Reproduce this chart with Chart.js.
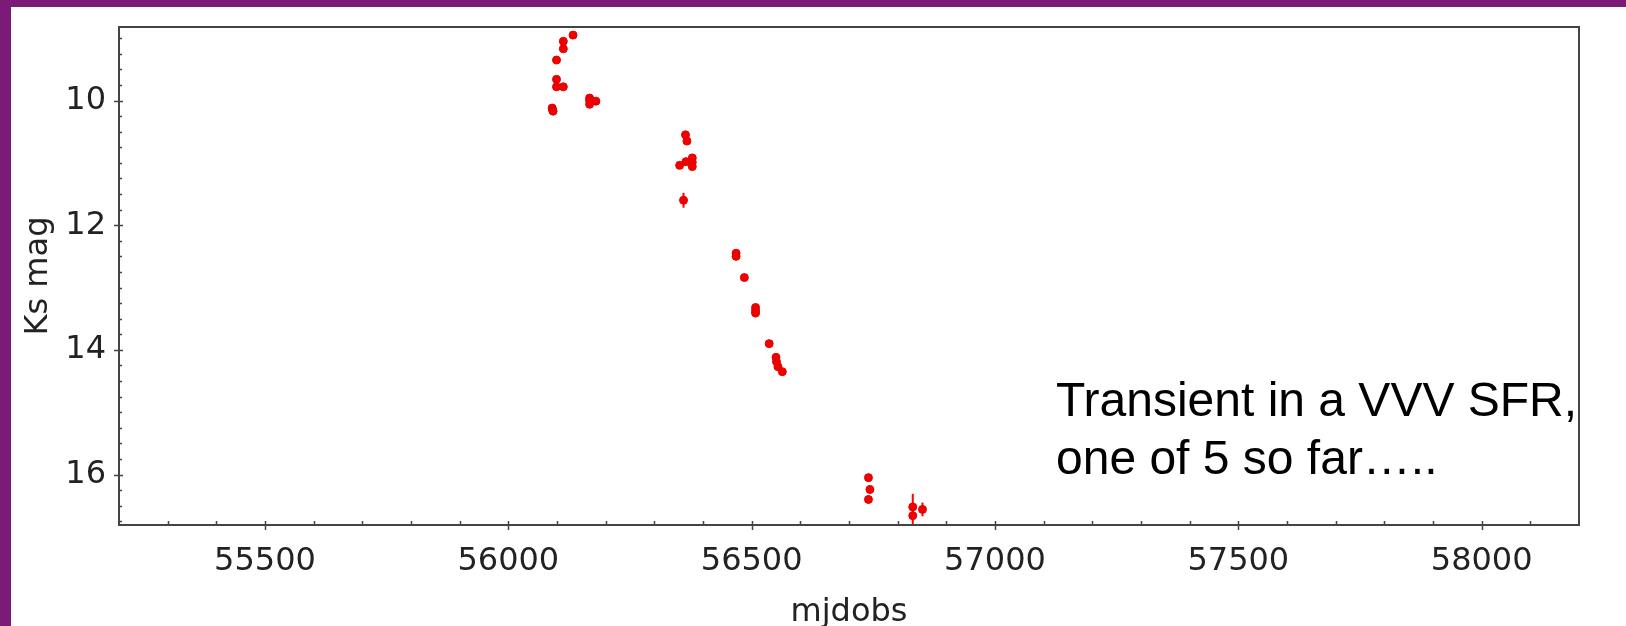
<!DOCTYPE html>
<html>
<head>
<meta charset="utf-8">
<script src="https://cdn.jsdelivr.net/npm/chart.js@4.4.0/dist/chart.umd.min.js"></script>
<style>
  html, body { margin: 0; padding: 0; background: #fff; }
  #page { position: relative; width: 1626px; height: 626px; overflow: hidden; background: #fff; }
  #barTop { position: absolute; left: 0; top: 0; width: 1626px; height: 7px; background: #7c1a78; }
  #barLeft { position: absolute; left: 0; top: 0; width: 11px; height: 626px; background: #7c1a78; }
  #wrap { position: absolute; left: 0; top: 0; width: 1626px; height: 626px; }
</style>
</head>
<body>
<div id="page">
  <div id="barTop"></div>
  <div id="barLeft"></div>
  <div id="wrap"><canvas id="lc"></canvas></div>
</div>
<script>

/* light curve */
var mjd = [56090, 56091, 56092, 56099, 56099, 56099, 56113, 56113, 56113, 56133,
           56167, 56167, 56167, 56180,
           56364, 56367, 56352, 56365, 56378, 56378, 56378, 56360,
           56468, 56468, 56485, 56508, 56508, 56508, 56536, 56550, 56551, 56554, 56563,
           56740, 56743, 56740, 56831, 56831, 56851];
var ksMag = [10.12, 10.15, 10.17, 9.35, 9.66, 9.78, 9.78, 9.17, 9.05, 8.95,
             9.96, 10.00, 10.06, 10.01,
             10.55, 10.65, 11.04, 10.98, 10.92, 11.06, 10.99, 11.60,
             12.45, 12.50, 12.84, 13.32, 13.37, 13.41, 13.90, 14.12, 14.19, 14.27, 14.35,
             16.05, 16.24, 16.40, 16.52, 16.66, 16.56];
var ksErr = [0.02, 0.02, 0.02, 0.02, 0.02, 0.02, 0.02, 0.02, 0.02, 0.02,
             0.02, 0.02, 0.02, 0.02,
             0.03, 0.03, 0.03, 0.03, 0.03, 0.03, 0.03, 0.12,
             0.03, 0.03, 0.03, 0.03, 0.03, 0.03, 0.03, 0.04, 0.04, 0.04, 0.04,
             0.06, 0.06, 0.06, 0.21, 0.21, 0.11];

var xTicks = [55500, 56000, 56500, 57000, 57500, 58000];
var yTicks = [10, 12, 14, 16];
var xRange = [55200, 58200];
var yRange = [8.82, 16.81];
var noteLines = ['Transient in a VVV SFR,', 'one of 5 so far\u2026..'];

var points = mjd.map(function(x, i) { return {x: x, y: ksMag[i]}; });

var axisFont = {family: 'DejaVu Sans', size: 32};
var inkColour = '#222';

// error bars, frame, inner minor ticks and the note
var decor = {
  id: 'decor',
  beforeDatasetsDraw: function(chart) {
    var ctx = chart.ctx, xs = chart.scales.x, ys = chart.scales.y, a = chart.chartArea;
    ctx.save();
    ctx.beginPath();
    ctx.rect(a.left, a.top, a.right - a.left, a.bottom - a.top);
    ctx.clip();
    ctx.strokeStyle = '#f00';
    ctx.lineWidth = 2;
    mjd.forEach(function(x, i) {
      var px = xs.getPixelForValue(x);
      ctx.beginPath();
      ctx.moveTo(px, ys.getPixelForValue(ksMag[i] - ksErr[i]));
      ctx.lineTo(px, ys.getPixelForValue(ksMag[i] + ksErr[i]));
      ctx.stroke();
    });
    ctx.restore();
  },
  afterDraw: function(chart) {
    var ctx = chart.ctx, xs = chart.scales.x, ys = chart.scales.y, a = chart.chartArea;
    ctx.save();
    ctx.strokeStyle = '#444';
    ctx.lineWidth = 2;
    ctx.strokeRect(a.left, a.top, a.right - a.left, a.bottom - a.top);

    ctx.lineWidth = 1.5;
    ctx.beginPath();
    // minor ticks point inwards, majors cross the axis
    for (var v = xRange[0] + 100; v < xRange[1]; v += 100) {
      var px = Math.round(xs.getPixelForValue(v)) + 0.5;
      if (v % 500 === 0) {
        ctx.moveTo(px, a.bottom - 4); ctx.lineTo(px, a.bottom + 5);
      } else {
        ctx.moveTo(px, a.bottom); ctx.lineTo(px, a.bottom - 4);
      }
    }
    for (var m = 9; m < yRange[1]; m += 0.25) {
      var py = Math.round(ys.getPixelForValue(m)) + 0.5;
      if (m % 2 === 0) {
        ctx.moveTo(a.left - 5, py); ctx.lineTo(a.left + 4, py);
      } else {
        ctx.moveTo(a.left, py); ctx.lineTo(a.left + 3, py);
      }
    }
    ctx.stroke();

    ctx.fillStyle = '#000';
    ctx.font = '48px "Liberation Sans", Arial, sans-serif';
    ctx.textAlign = 'left';
    ctx.textBaseline = 'alphabetic';
    ctx.fillText(noteLines[0], 1056, 416);
    ctx.fillText(noteLines[1], 1056, 474);
    ctx.restore();
  }
};

var chart = new Chart(document.getElementById('lc'), {
  type: 'scatter',
  data: {
    datasets: [{
      label: 'Ks',
      data: points,
      pointRadius: 4,
      pointBorderWidth: 1,
      backgroundColor: '#f20000',
      borderColor: '#e00000'
    }]
  },
  options: {
    responsive: true,
    maintainAspectRatio: false,
    animation: false,
    layout: { padding: {top: 27, right: 47, left: 0, bottom: 0} },
    plugins: {
      legend: { display: false },
      tooltip: { enabled: false }
    },
    scales: {
      x: {
        type: 'linear',
        position: 'bottom',
        min: xRange[0],
        max: xRange[1],
        afterBuildTicks: function(s) { s.ticks = xTicks.map(function(v) { return {value: v}; }); },
        afterFit: function(s) { s.height = 101; s.paddingLeft = 0; s.paddingRight = 0; },
        grid: { display: false, drawTicks: false },
        border: { display: false },
        ticks: {
          font: axisFont, color: inkColour, padding: 17,
          maxRotation: 0, autoSkip: false,
          callback: function(v) { return String(v); }
        },
        title: { display: true, text: 'mjdobs', font: axisFont, color: inkColour, padding: {top: 0, bottom: -6} }
      },
      y: {
        type: 'linear',
        reverse: true,
        min: yRange[0],
        max: yRange[1],
        afterBuildTicks: function(s) { s.ticks = yTicks.map(function(v) { return {value: v}; }); },
        afterFit: function(s) { s.width = 119; s.paddingTop = 0; s.paddingBottom = 0; },
        grid: { display: false, drawTicks: false },
        border: { display: false },
        ticks: {
          font: axisFont, color: inkColour, padding: 13,
          callback: function(v) { return String(v); }
        },
        title: { display: true, text: 'Ks mag', font: axisFont, color: inkColour, padding: {top: 19, bottom: 0} }
      }
    }
  },
  plugins: [decor]
});

</script>
</body>
</html>
